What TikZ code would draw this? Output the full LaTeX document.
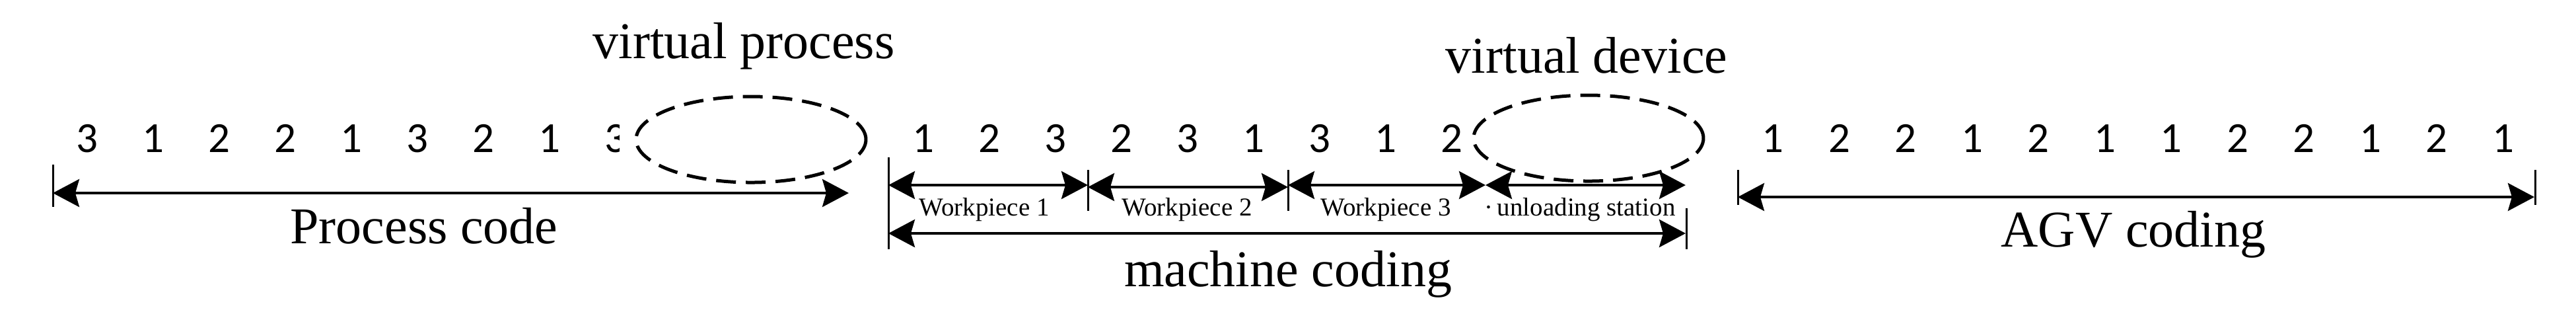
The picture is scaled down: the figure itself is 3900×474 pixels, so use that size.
\documentclass[tikz,border=0pt]{standalone}
\usepackage{fontspec}
\setmainfont{Liberation Serif}
\newfontfamily\digitfont{Carlito}
\usetikzlibrary{arrows.meta,shapes.geometric}
\begin{document}
\begin{tikzpicture}[x=0.1pt,y=-0.1pt,
  dig/.style={font=\digitfont\fontsize{6.5pt}{6.5pt}\selectfont, anchor=base, inner sep=0pt},
  big/.style={font=\fontsize{7.8pt}{7.8pt}\selectfont, anchor=base, inner sep=0pt},
  small/.style={font=\fontsize{3.9pt}{3.9pt}\selectfont, anchor=base, inner sep=0pt},
  dimline/.style={line width=0.4pt, {Stealth[length=4pt,width=4.2pt,inset=0.6pt]}-{Stealth[length=4pt,width=4.2pt,inset=0.6pt]}},
  endbar/.style={line width=0.3pt},
  virt/.style={draw, ellipse, line width=0.5pt, dash pattern=on 3pt off 1.5pt, inner sep=0pt, minimum width=34.8pt, minimum height=13pt}
]
\useasboundingbox (0,0) rectangle (3900,474);

% titles
\node[big] (vp) at (1126,88) {virtual process};
\node[big] (vd) at (2402,110) {virtual device};
\node[big] (pc) at (642,368) {Process code};
\node[big] (mc) at (1950,433) {machine coding};
\node[big] (agv) at (3230,373) {AGV coding};

% process digits
\foreach \d [count=\i from 0] in {3,1,2,2,1,3,2,1}
  \node[dig] (p\i) at ({132+100*\i},230) {\d};
\begin{scope}
  \clip (900,150) rectangle (937,260);
  \node[dig] (p8) at (932,230) {3};
\end{scope}

% machine digits
\foreach \d [count=\i from 0] in {1,2,3,2,3,1,3,1,2}
  \node[dig] (m\i) at ({1398+100*\i},230) {\d};

% AGV digits
\foreach \d [count=\i from 0] in {1,2,2,1,2,1,1,2,2,1,2,1}
  \node[dig] (a\i) at ({2684+100.5*\i},230) {\d};

% virtual ellipses
\node[virt] (e1) at (1137,211) {};
\node[virt] (e2) at (2405,209) {};

% process code arrow
\coordinate (pL) at (80,292);
\coordinate (pR) at (1285,292);
\coordinate (pLt) at (80,249);
\coordinate (pLb) at (80,313);
\draw[endbar] (pLt) -- (pLb);
\draw[dimline] (pL) -- (pR);

% machine coding: workpiece arrows
\coordinate (w0) at (1345,280);
\coordinate (w1) at (1647,280);
\coordinate (w1b) at (1647,283);
\coordinate (w2) at (1950,283);
\coordinate (w2b) at (1950,280);
\coordinate (w3) at (2249,280);
\coordinate (w4) at (2552,280);
\draw[dimline] (w0) -- (w1);
\draw[dimline] (w1b) -- (w2);
\draw[dimline] (w2b) -- (w3);
\draw[dimline] (w3) -- (w4);

\coordinate (b0t) at (1345,238);
\coordinate (b0b) at (1345,377);
\coordinate (b1t) at (1647,257);
\coordinate (b1b) at (1647,319);
\coordinate (b2t) at (1950,257);
\coordinate (b2b) at (1950,319);
\draw[endbar] (b0t) -- (b0b);
\draw[endbar] (b1t) -- (b1b);
\draw[endbar] (b2t) -- (b2b);

\node[small] (wp1) at (1490,326) {Workpiece 1};
\node[small] (wp2) at (1797,326) {Workpiece 2};
\node[small] (wp3) at (2098,326) {Workpiece 3};
\node[small] (ul) at (2392,326) {·\,unloading station};

% machine coding long arrow
\coordinate (mL) at (1345,353);
\coordinate (mR) at (2552,353);
\coordinate (mRt) at (2553,315);
\coordinate (mRb) at (2553,377);
\draw[dimline] (mL) -- (mR);
\draw[endbar] (mRt) -- (mRb);

% AGV arrow
\coordinate (aL) at (2631,298);
\coordinate (aR) at (3837,298);
\coordinate (aLt) at (2631,257);
\coordinate (aLb) at (2631,310);
\coordinate (aRt) at (3838,257);
\coordinate (aRb) at (3838,310);
\draw[endbar] (aLt) -- (aLb);
\draw[endbar] (aRt) -- (aRb);
\draw[dimline] (aL) -- (aR);
\end{tikzpicture}
\end{document}
